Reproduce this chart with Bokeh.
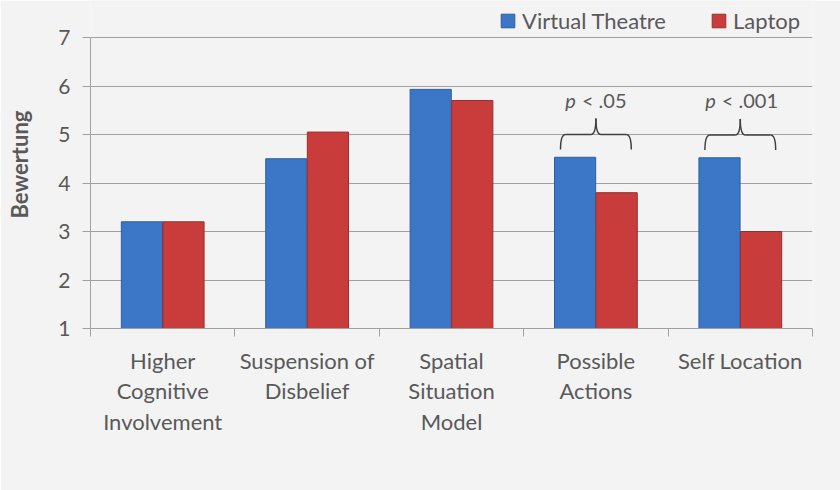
from bokeh.plotting import figure
from bokeh.models import Range1d, FixedTicker, Legend, LegendItem, ColumnDataSource
from bokeh.core.properties import value
from bokeh.transform import dodge
from bokeh.embed import file_html
from bokeh.resources import INLINE

# ---- data ----
categories = ["Higher\nCognitive\nInvolvement", "Suspension of\nDisbelief",
              "Spatial\nSituation\nModel", "Possible\nActions", "Self Location"]
virtual_theatre = [3.2, 4.5, 5.93, 4.53, 4.52]
laptop = [3.2, 5.05, 5.7, 3.8, 3.0]
y_ticks = [1, 2, 3, 4, 5, 6, 7]
sig_index = [3, 4]
sig_text = ["< .05", "< .001"]

FONT = "Lato"
GREY = "#595959"
AX = "#a0a0a0"
BG = "#f3f3f3"

centers = [i + 0.5 for i in range(len(categories))]
src = ColumnDataSource(dict(x=centers, vt=virtual_theatre, lt=laptop))

# frame reaches the top of the canvas so the legend above the 7-line is not clipped
px_per_unit = 48.5
top_extra = 37 / px_per_unit
p = figure(width=840, height=490, x_range=Range1d(0, len(categories)),
           y_range=Range1d(y_ticks[0], y_ticks[-1] + top_extra),
           output_backend="svg", toolbar_location=None,
           min_border_left=90, min_border_right=28, min_border_top=0,
           min_border_bottom=162)
p.background_fill_color = BG
p.border_fill_color = BG
p.outline_line_color = None

r_vt = p.vbar(x=dodge("x", -0.144), top="vt", bottom=y_ticks[0], width=0.285,
              source=src, fill_color="#3b77c6", line_color="#2d5d9e")
r_lt = p.vbar(x=dodge("x", 0.144), top="lt", bottom=y_ticks[0], width=0.285,
              source=src, fill_color="#c93c3c", line_color="#9c2d2d")

# axes
p.xgrid.grid_line_color = None
p.ygrid.grid_line_color = "#a0a0a0"
p.yaxis.ticker = FixedTicker(ticks=y_ticks)
p.yaxis.bounds = (y_ticks[0], y_ticks[-1])
p.yaxis.major_tick_in = 0
p.yaxis.major_tick_out = 8
p.yaxis.minor_tick_line_color = None
p.yaxis.major_tick_line_color = AX
p.yaxis.axis_line_color = AX
p.yaxis.major_label_text_font = FONT
p.yaxis.major_label_text_font_size = "21px"
p.yaxis.major_label_text_color = GREY
p.yaxis.major_label_standoff = 12
p.yaxis.axis_label = "Bewertung"
p.yaxis.axis_label_text_font = FONT
p.yaxis.axis_label_text_font_size = "22px"
p.yaxis.axis_label_text_font_style = "bold"
p.yaxis.axis_label_text_color = GREY
p.yaxis.axis_label_standoff = 22

p.xaxis.ticker = FixedTicker(ticks=centers, minor_ticks=list(range(len(categories) + 1)))
p.xaxis.major_label_overrides = {c: lab for c, lab in zip(centers, categories)}
p.xaxis.major_tick_line_color = None
p.xaxis.major_tick_in = 0
p.xaxis.major_tick_out = 0
p.xaxis.minor_tick_in = 0
p.xaxis.minor_tick_out = 8
p.xaxis.minor_tick_line_color = AX
p.xaxis.axis_line_color = AX
p.xaxis.major_label_text_font = FONT
p.xaxis.major_label_text_font_size = "22px"
p.xaxis.major_label_text_color = GREY
p.xaxis.major_label_text_line_height = 1.13
p.xaxis.major_label_standoff = 10

# significance braces
for idx, txt in zip(sig_index, sig_text):
    xc = centers[idx]
    base = max(virtual_theatre[idx], laptop[idx]) + 0.16
    mid = base + 0.31
    tip = base + 0.64
    half = 0.245
    d = 0.035
    x0, x1 = xc - half, xc + half
    p.quadratic(x0=[x0, x1, xc - d, xc + d], y0=[base, base, mid, mid],
                x1=[x0 + d, x1 - d, xc, xc], y1=[mid, mid, tip, tip],
                cx=[x0, x1, xc, xc], cy=[mid, mid, mid, mid],
                line_color="#404040", line_width=1.5)
    p.segment(x0=[x0 + d, xc + d], y0=[mid, mid], x1=[xc - d, x1 - d], y1=[mid, mid],
              line_color="#404040", line_width=1.5)
    ty = base + 1.03
    rest_w = 9 * len(txt)
    p_right = -(rest_w + 15) / 2 + 10
    p.text(x=[xc], y=[ty], text=["p"], x_offset=p_right, text_align="right",
           text_baseline="middle", text_font=value(FONT), text_font_size="20px",
           text_font_style="italic", text_color=GREY)
    p.text(x=[xc], y=[ty], text=[txt], x_offset=p_right + 6, text_align="left",
           text_baseline="middle", text_font=value(FONT), text_font_size="20px",
           text_color=GREY)

# legend (two pinned legends)
for r, name, lx in [(r_vt, "Virtual Theatre", 409), (r_lt, "Laptop", 620)]:
    lg = Legend(items=[LegendItem(label=name, renderers=[r])], location=(lx, 294),
                orientation="horizontal", padding=0, margin=0, spacing=0,
                glyph_width=17, glyph_height=17, label_standoff=6,
                label_text_font=FONT, label_text_font_size="22px",
                label_text_color=GREY, border_line_color=None,
                background_fill_alpha=0)
    p.add_layout(lg, "center")

open("out.html", "w").write(file_html(p, INLINE))
